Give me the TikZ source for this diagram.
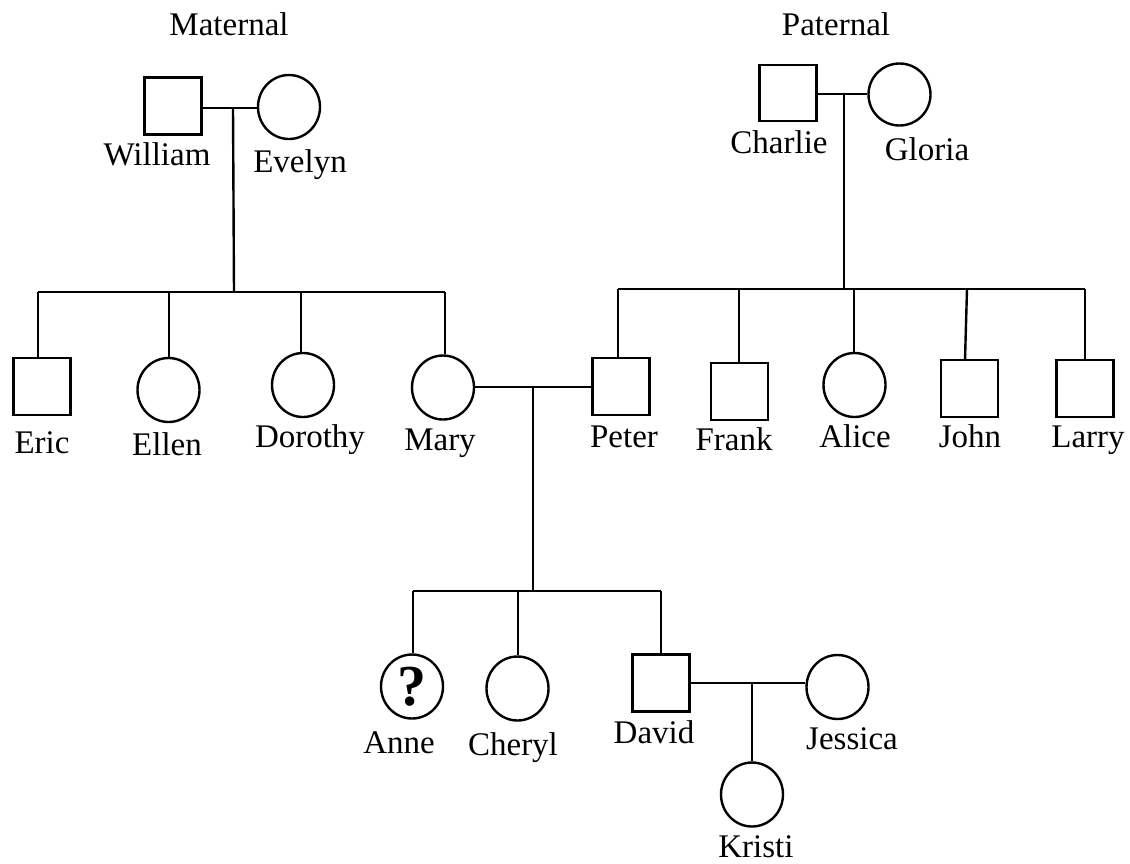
\documentclass[tikz,border=0pt]{standalone}
\usepackage{fontspec}
\setmainfont{Liberation Serif}
\usetikzlibrary{shapes.geometric}
\begin{document}
\begin{tikzpicture}[x=1pt,y=-1pt,
  line width=2.4pt,
  male/.style={draw,rectangle,inner sep=0pt,minimum width=57pt,minimum height=57pt},
  female/.style={draw,ellipse,inner sep=0pt,minimum width=62pt,minimum height=64pt},
  lbl/.style={anchor=base,inner sep=0pt,font=\fontsize{33}{38}\selectfont},
]
\useasboundingbox (0,0) rectangle (1130,863);

% grandparents
\node[lbl] (tmat) at (229,35) {Maternal};
\node[lbl] (tpat) at (836,35) {Paternal};
\node[male]   (william) at (173,106) {};
\node[female] (evelyn)  at (289,107) {};
\node[male,minimum height=56pt] (charlie) at (788,93) {};
\node[female,minimum height=62pt] (gloria) at (899.5,94.5) {};
\node[lbl] (lwilliam) at (157,165) {William};
\node[lbl] (levelyn)  at (300,172) {Evelyn};
\node[lbl] (lcharlie) at (779,153) {Charlie};
\node[lbl] (lgloria)  at (927,160) {Gloria};

% second generation
\node[male]   (eric)    at (42,386.5) {};
\node[female] (ellen)   at (168.5,390) {};
\node[female] (dorothy) at (303,385) {};
\node[female] (mary)    at (443,387.5) {};
\node[male]   (peter)   at (621,386.5) {};
\node[male]   (frank)   at (739.5,391.5) {};
\node[female] (alice)   at (854.5,385) {};
\node[male]   (john)    at (969.5,388.5) {};
\node[male]   (larry)   at (1085,388.5) {};
\node[lbl] (leric)    at (42,453) {Eric};
\node[lbl] (lellen)   at (167,455) {Ellen};
\node[lbl] (ldorothy) at (310,447) {Dorothy};
\node[lbl] (lmary)    at (440,450) {Mary};
\node[lbl] (lpeter)   at (624,447) {Peter};
\node[lbl] (lfrank)   at (734,450) {Frank};
\node[lbl] (lalice)   at (855,447) {Alice};
\node[lbl] (ljohn)    at (970,447) {John};
\node[lbl] (llarry)   at (1088,447) {Larry};

% third generation
\node[female] (anne)    at (412,686.5) {};
\node[font=\fontsize{58}{60}\selectfont\bfseries,inner sep=0pt] (qmark) at (412,687) {?};
\node[female] (cheryl)  at (517.5,688.5) {};
\node[male]   (david)   at (661,683) {};
\node[female] (jessica) at (837.5,687) {};
\node[female] (kristi)  at (752,794.5) {};
\node[lbl] (lanne)    at (399,753) {Anne};
\node[lbl] (lcheryl)  at (513,755) {Cheryl};
\node[lbl] (ldavid)   at (654,743) {David};
\node[lbl] (ljessica) at (852,749) {Jessica};
\node[lbl] (lkristi)  at (756,857) {Kristi};

% maternal family lines
\coordinate (mcouple) at (233,108);
\coordinate (mdrop) at (234,292);
\draw (william.east |- mcouple) -- (evelyn.west |- mcouple);
\draw (mcouple) -- (mdrop);
\coordinate (bEric) at (38,292);
\coordinate (bEllen) at (169,292);
\coordinate (bDorothy) at (301,292);
\coordinate (bMary) at (445,292);
\draw (bEric) -- (bMary);
\draw (bEric) -- (bEric |- eric.north);
\draw (bEllen) -- (bEllen |- ellen.north);
\draw (bDorothy) -- (bDorothy |- dorothy.north);
\draw (bMary) -- (bMary |- mary.north);

% paternal family lines
\coordinate (pcouple) at (844,94);
\coordinate (pdrop) at (844,289);
\draw (charlie.east |- pcouple) -- (gloria.west |- pcouple);
\draw (pcouple) -- (pdrop);
\coordinate (bPeter) at (618,289);
\coordinate (bFrank) at (739,289);
\coordinate (bAlice) at (854,289);
\coordinate (bJohn) at (967,289);
\coordinate (bLarry) at (1085,289);
\draw (bPeter) -- (bLarry);
\draw (bPeter) -- (bPeter |- peter.north);
\draw (bFrank) -- (bFrank |- frank.north);
\draw (bAlice) -- (bAlice |- alice.north);
\draw (bJohn) -- (965,360);
\draw (bLarry) -- (bLarry |- larry.north);

% Mary and Peter
\coordinate (ccouple) at (533,387);
\coordinate (cdrop) at (533,591);
\draw (mary.east |- ccouple) -- (peter.west |- ccouple);
\draw (ccouple) -- (cdrop);
\coordinate (bAnne) at (413,591);
\coordinate (bCheryl) at (518,591);
\coordinate (bDavid) at (661,591);
\draw (bAnne) -- (bDavid);
\draw (bAnne) -- (bAnne |- anne.north);
\draw (bCheryl) -- (bCheryl |- cheryl.north);
\draw (bDavid) -- (david.north);

% David and Jessica
\coordinate (dcouple) at (752,683);
\draw (david.east |- dcouple) -- (jessica.west |- dcouple);
\draw (dcouple) -- (kristi.north);
\end{tikzpicture}
\end{document}
